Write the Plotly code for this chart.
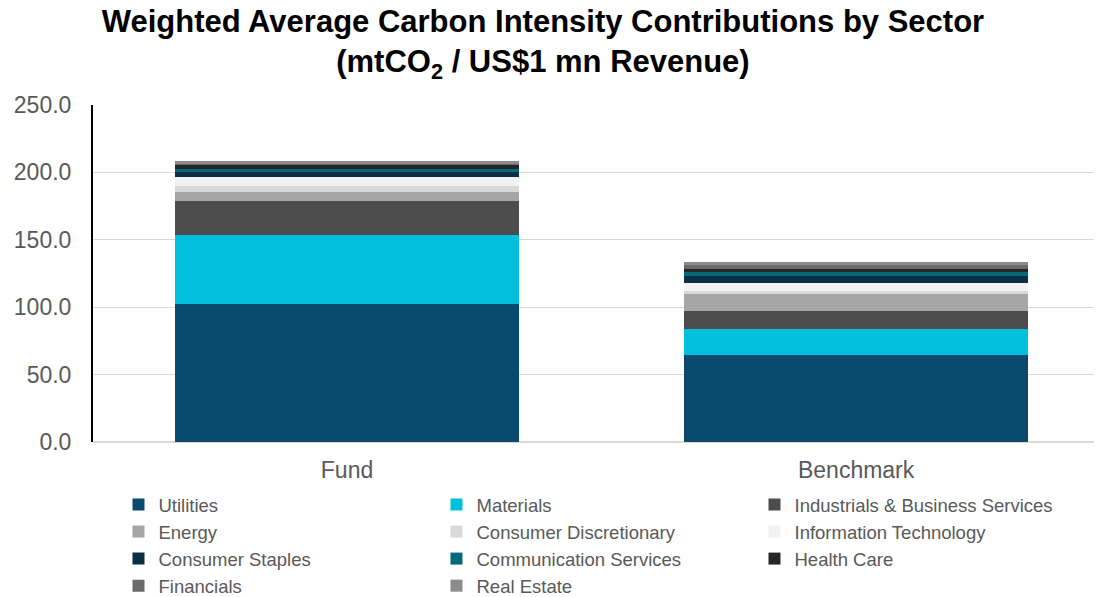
import plotly.graph_objects as go

categories = ["Fund", "Benchmark"]
sectors = ["Utilities", "Materials", "Industrials & Business Services", "Energy",
           "Consumer Discretionary", "Information Technology", "Consumer Staples",
           "Communication Services", "Health Care", "Financials", "Real Estate"]
fund_values = [102.1, 51.1, 25.7, 6.4, 4.9, 6.2, 4.0, 2.0, 3.2, 1.2, 1.3]
benchmark_values = [64.8, 19.1, 13.0, 12.9, 1.9, 6.2, 4.9, 3.0, 2.7, 3.0, 2.0]
colors = ["#0a4a6e", "#00c0de", "#4d4d4d", "#a6a6a6", "#d9d9d9", "#f2f2f2",
          "#0b2e45", "#00697a", "#262626", "#6b6b6b", "#8c8c8c"]
y_ticks = [0, 50, 100, 150, 200, 250]

fig = go.Figure()
for i, s in enumerate(sectors):
    fig.add_trace(go.Bar(
        x=categories, y=[fund_values[i], benchmark_values[i]], name=s,
        marker=dict(color=colors[i], line=dict(width=0)),
    ))

font_family = "Liberation Sans, Arial, sans-serif"
fig.update_layout(
    barmode="stack", bargap=0.324,
    width=1094, height=589,
    paper_bgcolor="white", plot_bgcolor="white",
    margin=dict(l=85, r=0, t=97, b=154.5, autoexpand=False),
    title=dict(
        text="Weighted Average Carbon Intensity Contributions by Sector<br>(mtCO<sub>2</sub> / US$1 mn Revenue)",
        x=0.489, xanchor="center", xref="container",
        y=0.959, yanchor="top", yref="container",
        font=dict(family=font_family, size=31, color="black", weight="bold"),
    ),
    xaxis=dict(range=[-0.499, 1.483], showgrid=False, showline=False, ticks="",
               automargin=False, ticklabelstandoff=12,
               tickfont=dict(family=font_family, size=23, color="#595959")),
    yaxis=dict(range=[0, 250], tickvals=y_ticks, tickformat=".1f",
               showgrid=True, gridcolor="#d9d9d9", gridwidth=1,
               showline=True, linecolor="black", linewidth=2,
               zeroline=True, zerolinecolor="#d9d9d9",
               ticks="", ticklabelstandoff=15, automargin=False,
               tickfont=dict(family=font_family, size=23, color="#595959")),
    legend=dict(orientation="h", xref="container", yref="container",
                x=0.101, xanchor="left", y=0.1885, yanchor="top",
                traceorder="normal", itemwidth=30, entrywidth=273, entrywidthmode="pixels",
                font=dict(family=font_family, size=18.5, color="#595959"),
                bgcolor="rgba(0,0,0,0)"),
    showlegend=True,
)

fig.write_html("out.html")
